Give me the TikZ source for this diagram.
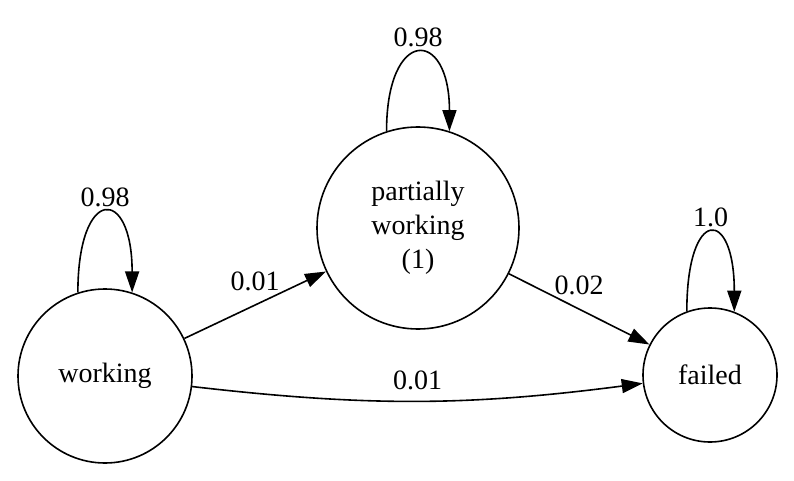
\documentclass[tikz,border=0pt]{standalone}
\usepackage{fontspec}
\setmainfont{LiberationSerif-Regular.ttf}
\usetikzlibrary{arrows.meta}

\begin{document}
\begin{tikzpicture}[
    x=1pt, y=1pt,
    every node/.style={font=\rmfamily\fontsize{28}{34}\selectfont},
    state/.style={circle, draw, line width=1.6pt, inner sep=0pt},
    edge/.style={line width=1.6pt, -{Triangle[length=21pt, width=14pt]}},
    lbl/.style={inner sep=0pt}
]
\useasboundingbox (0,0) rectangle (794,480);
% Stati
\node[state, minimum size=174pt] (working) at (105,104) {working};
\node[state, minimum size=202pt, align=center] (partial) at (418,252) {partially\\working\\(1)};
\node[state, minimum size=134pt] (failed) at (710,105) {failed};

% Anelli
\draw[edge] (working.108) .. controls +(0,107) and +(0,107) .. (working.72)
    node[lbl, midway, above=5pt] (lww) {0.98};
\draw[edge] (partial.108) .. controls +(0,104) and +(0,104) .. (partial.72)
    node[lbl, midway, above=5pt] (lpp) {0.98};
\draw[edge] (failed.110) .. controls +(0,105) and +(0,105) .. (failed.69)
    node[lbl, midway, above=5pt] (lff) {1.0};

% Transizioni
\draw[edge] (working) -- node[lbl, midway, above=13pt] (lwp) {0.01} (partial);
\draw[edge] (partial) -- node[lbl, midway, above=13pt] (lpf) {0.02} (failed);
\draw[edge] (working) to[bend right=7] node[lbl, midway, above=10pt] (lwf) {0.01} (failed);
\end{tikzpicture}
\end{document}
